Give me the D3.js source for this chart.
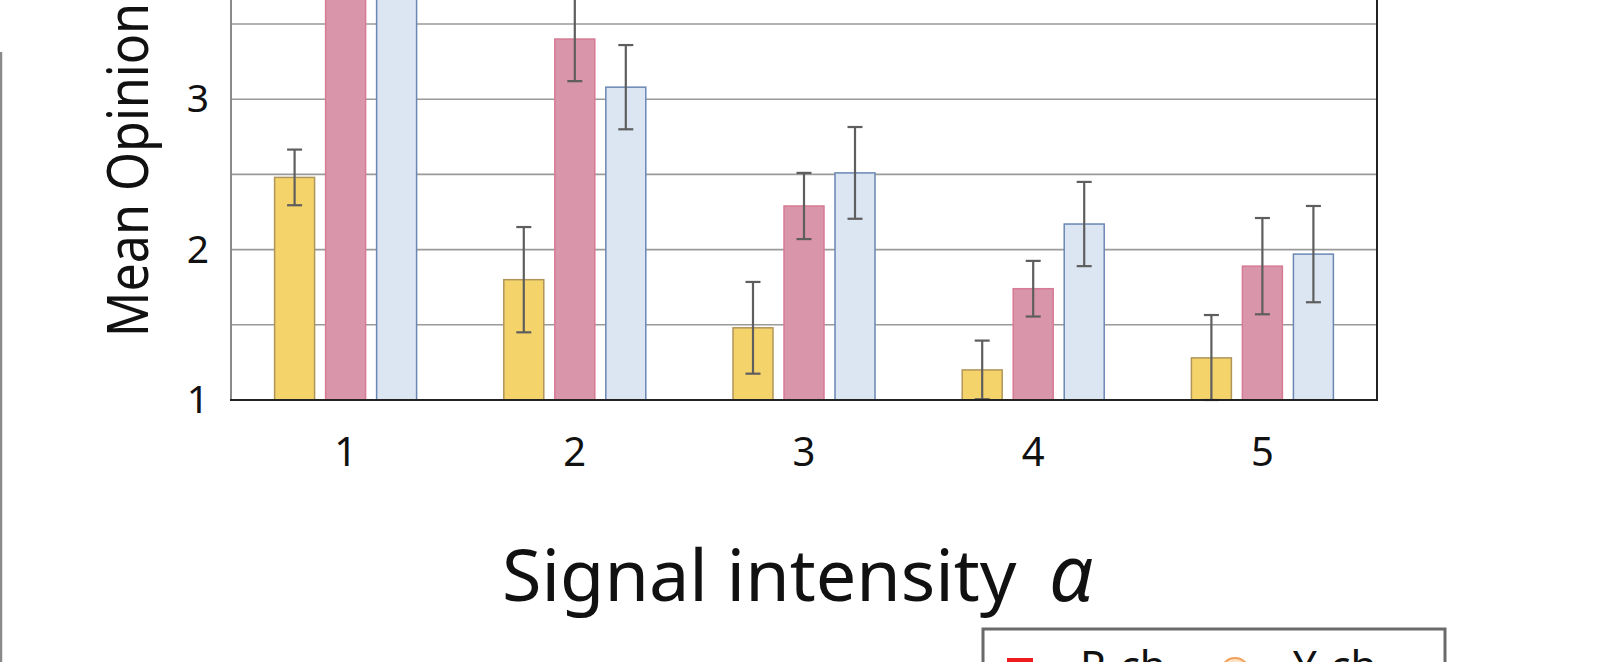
<!DOCTYPE html>
<html>
<head>
<meta charset="utf-8">
<script src="https://cdn.jsdelivr.net/npm/d3@7"></script>
<style>
  html, body { margin: 0; padding: 0; background: #fff; overflow: hidden; }
  svg { display: block; font-family: "Noto Sans", "Open Sans", sans-serif; }
</style>
</head>
<body>
<div id="chart"></div>
<script>
// signal intensity groups
const groups = ['1', '2', '3', '4', '5'];
const series = ['Y-ch', 'R-ch', 'B-ch'];

// mean opinion scores per series (one value per group)
const yellowMeans = [2.48, 1.80, 1.48, 1.20, 1.28];
const pinkMeans   = [3.95, 3.40, 2.29, 1.74, 1.89];
const blueMeans   = [3.90, 3.08, 2.51, 2.17, 1.97];

// half widths of the error bars
const yellowErr = [0.185, 0.35, 0.305, 0.195, 0.285];
const pinkErr   = [0.25, 0.28, 0.22, 0.185, 0.32];
const blueErr   = [0.20, 0.28, 0.305, 0.28, 0.32];

const yTicks = [1, 2, 3];
const gridValues = [1.5, 2, 2.5, 3, 3.5, 4];

const legendItems = ['R-ch', 'Y-ch'];

const fillMap = { 'Y-ch': '#f5d36b', 'R-ch': '#d995a9', 'B-ch': '#dce6f2' };
const strokeMap = { 'Y-ch': '#b0955a', 'R-ch': '#d77a95', 'B-ch': '#6a87b3' };

const width = 1598, height = 662;
const plot = { left: 231, right: 1377, bottom: 400 };

const svg = d3.select('#chart').append('svg')
    .attr('width', width)
    .attr('height', height);

const xScale = d3.scaleBand().domain(groups).range([plot.left, plot.right]);
const innerScale = d3.scaleBand().domain(series).range([-71, 71]).paddingInner(0.216);
const yScale = d3.scaleLinear().domain([1, 3.5]).range([plot.bottom, 24]);

// left page rule
svg.append('line')
    .attr('x1', 1).attr('x2', 1)
    .attr('y1', 52).attr('y2', height)
    .attr('stroke', '#8a8a8a').attr('stroke-width', 2.5);

// grid
svg.append('g').selectAll('line')
    .data(gridValues)
    .join('line')
    .attr('x1', plot.left).attr('x2', plot.right)
    .attr('y1', d => yScale(d)).attr('y2', d => yScale(d))
    .attr('stroke', '#9a9a9a').attr('stroke-width', 1.6);

// bars
let rows = [];
groups.forEach(function(g, i) {
    rows.push({ group: g, key: 'Y-ch', value: yellowMeans[i], err: yellowErr[i] });
    rows.push({ group: g, key: 'R-ch', value: pinkMeans[i], err: pinkErr[i] });
    rows.push({ group: g, key: 'B-ch', value: blueMeans[i], err: blueErr[i] });
});

const cx = d => xScale(d.group) + xScale.bandwidth() / 2 + innerScale(d.key) + innerScale.bandwidth() / 2;

svg.append('g').selectAll('rect')
    .data(rows)
    .join('rect')
    .attr('x', d => xScale(d.group) + xScale.bandwidth() / 2 + innerScale(d.key))
    .attr('width', innerScale.bandwidth())
    .attr('y', d => yScale(d.value))
    .attr('height', d => yScale(1) - yScale(d.value))
    .attr('fill', d => fillMap[d.key])
    .attr('stroke', d => strokeMap[d.key])
    .attr('stroke-width', 1.5);

// error bars
const errG = svg.append('g')
    .attr('stroke', '#5e5e5e')
    .attr('stroke-width', 2.2);

errG.selectAll('.stem')
    .data(rows)
    .join('line')
    .attr('class', 'stem')
    .attr('x1', cx).attr('x2', cx)
    .attr('y1', d => yScale(Math.max(1, d.value - d.err)))
    .attr('y2', d => yScale(d.value + d.err));

errG.selectAll('.cap-top')
    .data(rows)
    .join('line')
    .attr('class', 'cap-top')
    .attr('x1', d => cx(d) - 7.5).attr('x2', d => cx(d) + 7.5)
    .attr('y1', d => yScale(d.value + d.err))
    .attr('y2', d => yScale(d.value + d.err));

errG.selectAll('.cap-bottom')
    .data(rows)
    .join('line')
    .attr('class', 'cap-bottom')
    .attr('x1', d => cx(d) - 7.5).attr('x2', d => cx(d) + 7.5)
    .attr('y1', d => yScale(Math.max(1, d.value - d.err)))
    .attr('y2', d => yScale(Math.max(1, d.value - d.err)));

// frame
svg.append('line')
    .attr('x1', plot.left).attr('x2', plot.left)
    .attr('y1', 0).attr('y2', plot.bottom)
    .attr('stroke', '#8a8a8a').attr('stroke-width', 2);
svg.append('line')
    .attr('x1', plot.right).attr('x2', plot.right)
    .attr('y1', 0).attr('y2', plot.bottom + 1)
    .attr('stroke', '#222').attr('stroke-width', 2);
svg.append('line')
    .attr('x1', plot.left - 1).attr('x2', plot.right + 1)
    .attr('y1', plot.bottom).attr('y2', plot.bottom)
    .attr('stroke', '#222').attr('stroke-width', 2);

// axes
const yAxis = d3.axisLeft(yScale).tickValues(yTicks).tickSize(0).tickPadding(0).tickFormat(d3.format('d'));
const yAxisG = svg.append('g')
    .attr('transform', `translate(${plot.left - 22}, 0)`)
    .call(yAxis);
yAxisG.select('.domain').remove();
yAxisG.selectAll('text')
    .attr('font-size', 39)
    .attr('fill', '#111')
    .attr('font-family', '"Noto Sans", sans-serif');

const xAxis = d3.axisBottom(xScale).tickSize(0).tickPadding(0);
const xAxisG = svg.append('g')
    .attr('transform', `translate(0, ${plot.bottom + 38})`)
    .call(xAxis);
xAxisG.select('.domain').remove();
xAxisG.selectAll('text')
    .attr('font-size', 40)
    .attr('fill', '#111')
    .attr('font-family', '"Noto Sans", sans-serif');

// axis titles
svg.append('text')
    .attr('transform', 'translate(148, 337) rotate(-90) scale(0.88, 1)')
    .attr('font-size', 57)
    .attr('fill', '#111')
    .text('Mean Opinion Score');

const xTitle = svg.append('text')
    .attr('x', 502)
    .attr('y', 601)
    .attr('font-size', 72)
    .attr('fill', '#111');
xTitle.append('tspan').text('Signal intensity ');
xTitle.append('tspan').attr('font-style', 'italic').attr('font-size', 78).attr('dx', 14).text('α');

// legend (cut off by the page bottom)
const legend = svg.append('g');
legend.append('rect')
    .attr('x', 983).attr('y', 629)
    .attr('width', 462).attr('height', 120)
    .attr('fill', '#fff')
    .attr('stroke', '#6a6a6a').attr('stroke-width', 3);

const legendX = d3.scalePoint().domain(legendItems).range([1007, 1220]);
legend.selectAll('.mark')
    .data(legendItems)
    .join(function(enter) {
        return enter.append('g').attr('class', 'mark');
    })
    .each(function(d, i) {
        const g = d3.select(this);
        if (i === 0) {
            g.append('rect')
                .attr('x', legendX(d)).attr('y', 658)
                .attr('width', 26).attr('height', 26)
                .attr('fill', '#ee1c1c');
        } else {
            g.append('circle')
                .attr('cx', legendX(d) + 15).attr('cy', 672)
                .attr('r', 14)
                .attr('fill', '#fbe3c6').attr('stroke', '#f4a15a').attr('stroke-width', 2);
        }
        g.append('text')
            .attr('x', legendX(d) + 73)
            .attr('y', 681)
            .attr('font-size', 42)
            .attr('fill', '#111')
            .text(d);
    });
</script>
</body>
</html>
